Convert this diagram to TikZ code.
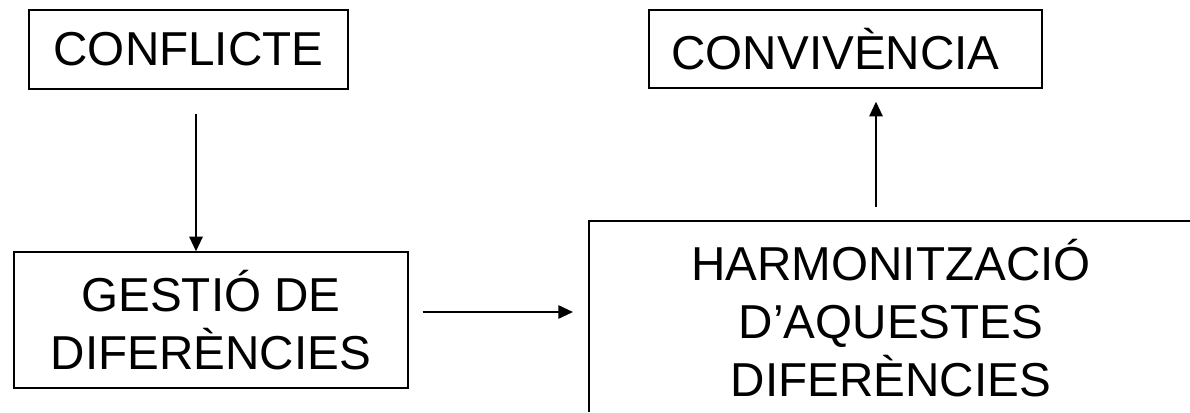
\documentclass[tikz,border=0pt]{standalone}
\usepackage{fontspec}
\setmainfont{Liberation Sans}
\usetikzlibrary{arrows.meta}
\tikzset{
  etiq/.style={font=\fontsize{35.7}{43.5}\selectfont, align=center, inner sep=0pt},
  caixa/.style={etiq, draw, line width=1pt},
  fletxa/.style={->, line width=1.3pt}
}
\begin{document}
\begin{tikzpicture}[x=0.75pt, y=-0.75pt, >={Triangle[length=11pt,width=10pt]}]
  \useasboundingbox (0,0) rectangle (1190,412);
  % caixes
  \node[caixa, minimum width=239.25pt, minimum height=59.25pt] (conflicte) at (188.5,49.5) {CONFLICTE};
  \node[caixa, minimum width=294.75pt, minimum height=58.5pt] (convivencia) at (845.5,49) {\makebox[0pt][l]{\hspace{-7.5pt}CONVIVÈNCIA}\phantom{CONVIVÈNCIA}};
  \node[caixa, minimum width=295.5pt, minimum height=102pt] (gestio) at (211,320) {GESTIÓ DE\\DIFERÈNCIES};
  \node[etiq] (harmonia) at (891,318) {HARMONITZACIÓ\\D’AQUESTES\\DIFERÈNCIES};
  % marc obert de la caixa de la dreta
  \coordinate (hbaix) at (589,412);
  \coordinate (hcant) at (589,221);
  \coordinate (hdreta) at (1190,221);
  \draw[line width=1pt] (hbaix) -- (hcant) -- (hdreta);
  % fletxes
  \draw[fletxa, shorten <=18pt] (conflicte.south -| 196,0) -- (gestio.north -| 196,0);
  \draw[fletxa, shorten <=10.5pt, shorten >=12pt] (gestio.east |- 0,312) -- (hcant |- 0,312);
  \draw[fletxa, shorten <=10.5pt, shorten >=9.75pt] (hcant -| 876,0) -- (convivencia.south -| 876,0);
\end{tikzpicture}
\end{document}
